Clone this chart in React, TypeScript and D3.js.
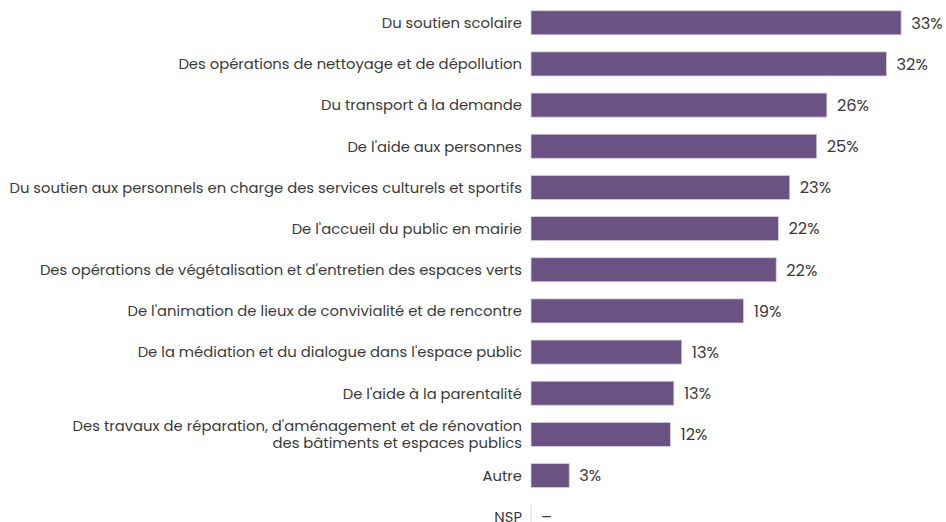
import React from "react";
import * as d3 from "d3";

const categories: string[][] = [
  ["Du soutien scolaire"],
  ["Des opérations de nettoyage et de dépollution"],
  ["Du transport à la demande"],
  ["De l'aide aux personnes"],
  ["Du soutien aux personnels en charge des services culturels et sportifs"],
  ["De l'accueil du public en mairie"],
  ["Des opérations de végétalisation et d'entretien des espaces verts"],
  ["De l'animation de lieux de convivialité et de rencontre"],
  ["De la médiation et du dialogue dans l'espace public"],
  ["De l'aide à la parentalité"],
  ["Des travaux de réparation, d'aménagement et de rénovation", "des bâtiments et espaces publics"],
  ["Autre"],
  ["NSP"],
];
const values: (number | null)[] = [32.9, 31.6, 26.3, 25.4, 23.0, 22.0, 21.8, 18.9, 13.4, 12.7, 12.4, 3.4, null];
const valueLabels: string[] = ["33%", "32%", "26%", "25%", "23%", "22%", "22%", "19%", "13%", "13%", "12%", "3%", "–"];

const W = 946;
const H = 522;

export default function App() {
  const x = d3.scaleLinear().domain([0, 10]).range([531, 643.5]);
  const y = d3
    .scaleBand<number>()
    .domain(d3.range(categories.length))
    .range([2.5, 537])
    .paddingInner(0.415)
    .paddingOuter(0.2);
  const bh = y.bandwidth();
  const font = "Poppins, 'Noto Sans', sans-serif";
  return (
    <svg
      width={W}
      height={H}
      style={{ position: "fixed", left: 0, top: 0, background: "#fff" }}
      fontFamily={font}
    >
      {categories.map((lines, i) => {
        const cy = (y(i) as number) + bh / 2;
        const v = values[i];
        const x1 = x(v ?? 0);
        return (
          <g key={i}>
            {v !== null && (
              <rect
                x={x(0)}
                y={cy - bh / 2}
                width={Math.max(0, x1 - x(0))}
                height={bh}
                fill="#6a5383"
                stroke="#d9d1e0"
                strokeWidth={0.8}
              />
            )}
            {v === null && (
              <line x1={x(0)} x2={x(0)} y1={cy - bh / 2} y2={cy + bh / 2} stroke="#d8d8d8" strokeWidth={1} />
            )}
            <text x={x1 + 10} y={cy} dy="0.36em" fontSize={16.3} fill="#3a3a3a">
              {valueLabels[i]}
            </text>
            {lines.map((t, j) => (
              <text
                key={j}
                x={522}
                y={cy + (j - (lines.length - 1) / 2) * 17}
                dy="0.36em"
                textAnchor="end"
                fontSize={14.8}
                fill="#3a3a3a"
              >
                {t}
              </text>
            ))}
          </g>
        );
      })}
    </svg>
  );
}
